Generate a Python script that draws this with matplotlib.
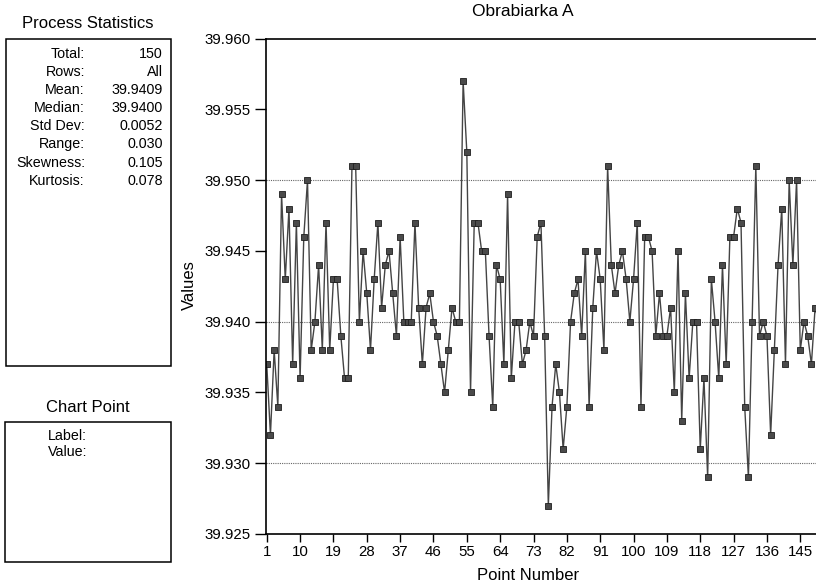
import numpy as np
import matplotlib
matplotlib.use("Agg")
import matplotlib.pyplot as plt
from matplotlib.patches import Rectangle

plt.rcParams['font.family'] = ['Liberation Sans', 'DejaVu Sans']

# values (39.9xx)
values = [39.937, 39.932, 39.938, 39.934, 39.949, 39.943, 39.948, 39.937, 39.947, 39.936,
          39.946, 39.950, 39.938, 39.940, 39.944, 39.938, 39.947, 39.938, 39.943, 39.943,
          39.939, 39.936, 39.936, 39.951, 39.951, 39.940, 39.945, 39.942, 39.938, 39.943,
          39.947, 39.941, 39.944, 39.945, 39.942, 39.939, 39.946, 39.940, 39.940, 39.940,
          39.947, 39.941, 39.937, 39.941, 39.942, 39.940, 39.939, 39.937, 39.935, 39.938,
          39.941, 39.940, 39.940, 39.957, 39.952, 39.935, 39.947, 39.947, 39.945, 39.945,
          39.939, 39.934, 39.944, 39.943, 39.937, 39.949, 39.936, 39.940, 39.940, 39.937,
          39.938, 39.940, 39.939, 39.946, 39.947, 39.939, 39.927, 39.934, 39.937, 39.935,
          39.931, 39.934, 39.940, 39.942, 39.943, 39.939, 39.945, 39.934, 39.941, 39.945,
          39.943, 39.938, 39.951, 39.944, 39.942, 39.944, 39.945, 39.943, 39.940, 39.943,
          39.947, 39.934, 39.946, 39.946, 39.945, 39.939, 39.942, 39.939, 39.939, 39.941,
          39.935, 39.945, 39.933, 39.942, 39.936, 39.940, 39.940, 39.931, 39.936, 39.929,
          39.943, 39.940, 39.936, 39.944, 39.937, 39.946, 39.946, 39.948, 39.947, 39.934,
          39.929, 39.940, 39.951, 39.939, 39.940, 39.939, 39.932, 39.938, 39.944, 39.948,
          39.937, 39.950, 39.944, 39.950, 39.938, 39.940, 39.939, 39.937, 39.941, 39.940]
points = np.arange(1, len(values) + 1)

xticks = list(range(1, 146, 9))
yticks = [39.925, 39.930, 39.935, 39.940, 39.945, 39.950, 39.955, 39.960]
gridlines = [39.930, 39.940, 39.950]

stat_names = ["Total:", "Rows:", "Mean:", "Median:", "Std Dev:", "Range:", "Skewness:", "Kurtosis:"]
stat_vals = ["150", "All", "39.9409", "39.9400", "0.0052", "0.030", "0.105", "0.078"]

W, H = 816, 586
fig = plt.figure(figsize=(W / 100, H / 100), dpi=100)


def fx(x):
    return x / W


def fy(y):
    return 1 - y / H


# main chart, right edge runs past the figure like in the original
ax = fig.add_axes([fx(266), fy(534), 558.0 / W, (534 - 38.7) / H])
ax.set_xlim(0.8, 151.4)
ax.set_ylim(39.925, 39.960)
for g in gridlines:
    ax.axhline(g, color='#666666', lw=0.8, ls=(0, (1, 1)), zorder=1)
ax.plot(points, values, color='#444444', lw=1.0, zorder=2,
        marker='s', ms=4.8, mfc='#4a4a4a', mec='#1e1e1e', mew=0.6)
ax.set_xticks(xticks)
ax.set_yticks(yticks)
ax.set_yticklabels(["%.3f" % v for v in yticks])
ax.tick_params(axis='y', direction='out', length=8, width=1, labelsize=10.8, pad=3)
ax.tick_params(axis='x', direction='out', length=6, width=1, labelsize=10.8, pad=2)
ax.spines['right'].set_visible(False)
for s in ['top', 'left', 'bottom']:
    ax.spines[s].set_linewidth(1.2)

fig.text(fx(523), fy(12), "Obrabiarka A", ha='center', va='center', fontsize=12.5)
fig.text(fx(528), fy(576), "Point Number", ha='center', va='center', fontsize=12)
fig.text(fx(189), fy(285), "Values", ha='center', va='center', rotation=90, fontsize=12)

# Process Statistics panel
fig.text(fx(88), fy(23), "Process Statistics", ha='center', va='center', fontsize=12)
fig.add_artist(Rectangle((fx(6), fy(366)), fx(165), (366 - 39) / H,
                         transform=fig.transFigure, fill=False, ec='black', lw=1.1))
for i, (n, v) in enumerate(zip(stat_names, stat_vals)):
    y = 54 + i * 18.1
    fig.text(fx(85), fy(y), n, ha='right', va='center', fontsize=10.3)
    fig.text(fx(163), fy(y), v, ha='right', va='center', fontsize=10.3)

# Chart Point panel
fig.text(fx(88), fy(408), "Chart Point", ha='center', va='center', fontsize=12)
fig.add_artist(Rectangle((fx(5), fy(562)), fx(166), (562 - 422) / H,
                         transform=fig.transFigure, fill=False, ec='black', lw=1.1))
fig.text(fx(48), fy(436), "Label:", ha='left', va='center', fontsize=10.3)
fig.text(fx(48), fy(452), "Value:", ha='left', va='center', fontsize=10.3)

fig.savefig("out.png", dpi=100)
